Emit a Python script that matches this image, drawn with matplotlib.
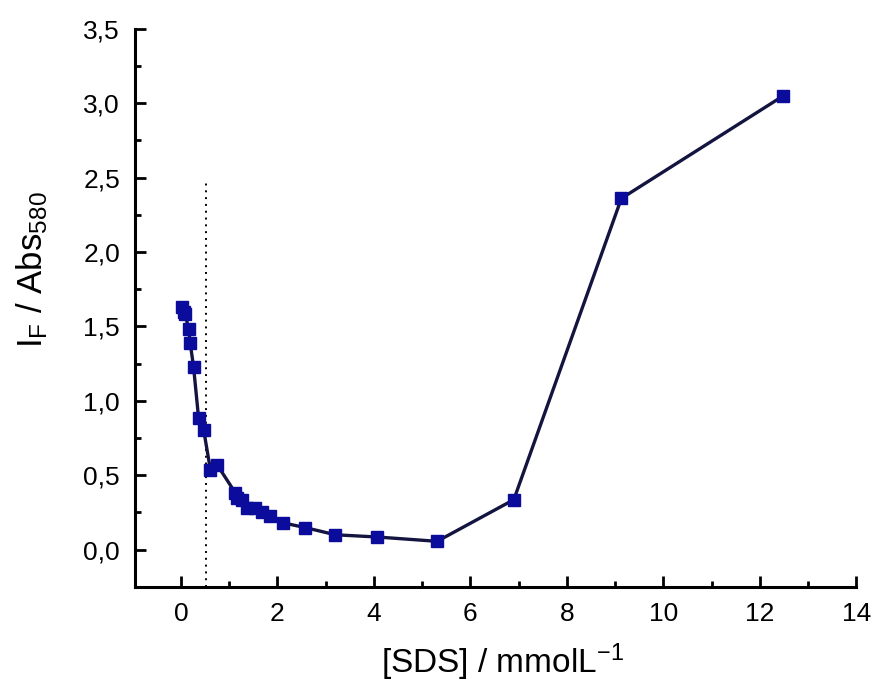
import numpy as np
import matplotlib
matplotlib.use("Agg")
import matplotlib.pyplot as plt
from matplotlib.ticker import MultipleLocator, FuncFormatter

# [SDS] in mmol/L and fluorescence ratio I_F / Abs_580
sds_conc = [0.02, 0.055, 0.09, 0.16, 0.19, 0.26, 0.365, 0.47, 0.61, 0.75,
            1.13, 1.16, 1.27, 1.37, 1.54, 1.68, 1.85, 2.12, 2.58, 3.2,
            4.07, 5.31, 6.90, 9.13, 12.49]
ratio = [1.63, 1.60, 1.58, 1.48, 1.39, 1.23, 0.884, 0.805, 0.537, 0.57,
         0.38, 0.35, 0.335, 0.28, 0.28, 0.255, 0.228, 0.18, 0.148, 0.10,
         0.085, 0.056, 0.336, 2.36, 3.05]

# CMC marker (dotted vertical line)
cmc_x = 0.52
cmc_top = 2.47

plt.rcParams["font.family"] = ["Liberation Sans", "DejaVu Sans"]
plt.rcParams["mathtext.fontset"] = "custom"
plt.rcParams["mathtext.rm"] = "Liberation Sans"
plt.rcParams["mathtext.it"] = "Liberation Sans"

fig = plt.figure(figsize=(8.72, 6.84), dpi=100)
ax = fig.add_axes([0.155, 0.142, 0.827, 0.816])

ax.plot(sds_conc, ratio, color="#141440", lw=2.4, marker="s", ms=8,
        mfc="#0c0c9c", mec="#0c0c9c", zorder=3)
ax.plot([cmc_x, cmc_x], [-0.25, cmc_top], color="black", lw=1.4,
        ls=(0, (1, 2.5)), zorder=2)

ax.set_xlim(-0.95, 14)
ax.set_ylim(-0.25, 3.5)

for side in ["top", "right"]:
    ax.spines[side].set_visible(False)
for side in ["left", "bottom"]:
    ax.spines[side].set_linewidth(2.2)

ax.xaxis.set_major_locator(MultipleLocator(2))
ax.xaxis.set_minor_locator(MultipleLocator(1))
ax.yaxis.set_major_locator(MultipleLocator(0.5))
ax.yaxis.set_minor_locator(MultipleLocator(0.25))
ax.yaxis.set_major_formatter(FuncFormatter(lambda v, p: f"{v:.1f}".replace(".", ",")))

ax.tick_params(which="major", direction="in", length=8, width=2, labelsize=19)
ax.tick_params(axis="y", which="major", pad=11)
ax.tick_params(axis="x", which="major", pad=11)
ax.tick_params(which="minor", direction="in", length=4, width=2)

ax.set_xlabel("[SDS] / mmolL$^{-1}$", fontsize=24)
ax.xaxis.set_label_coords(0.51, -0.097)
ax.set_ylabel("I$_{\\mathregular{F}}$ / Abs$_{580}$", fontsize=25)
ax.yaxis.set_label_coords(-0.118, 0.568)

fig.savefig("out.png", dpi=100)
